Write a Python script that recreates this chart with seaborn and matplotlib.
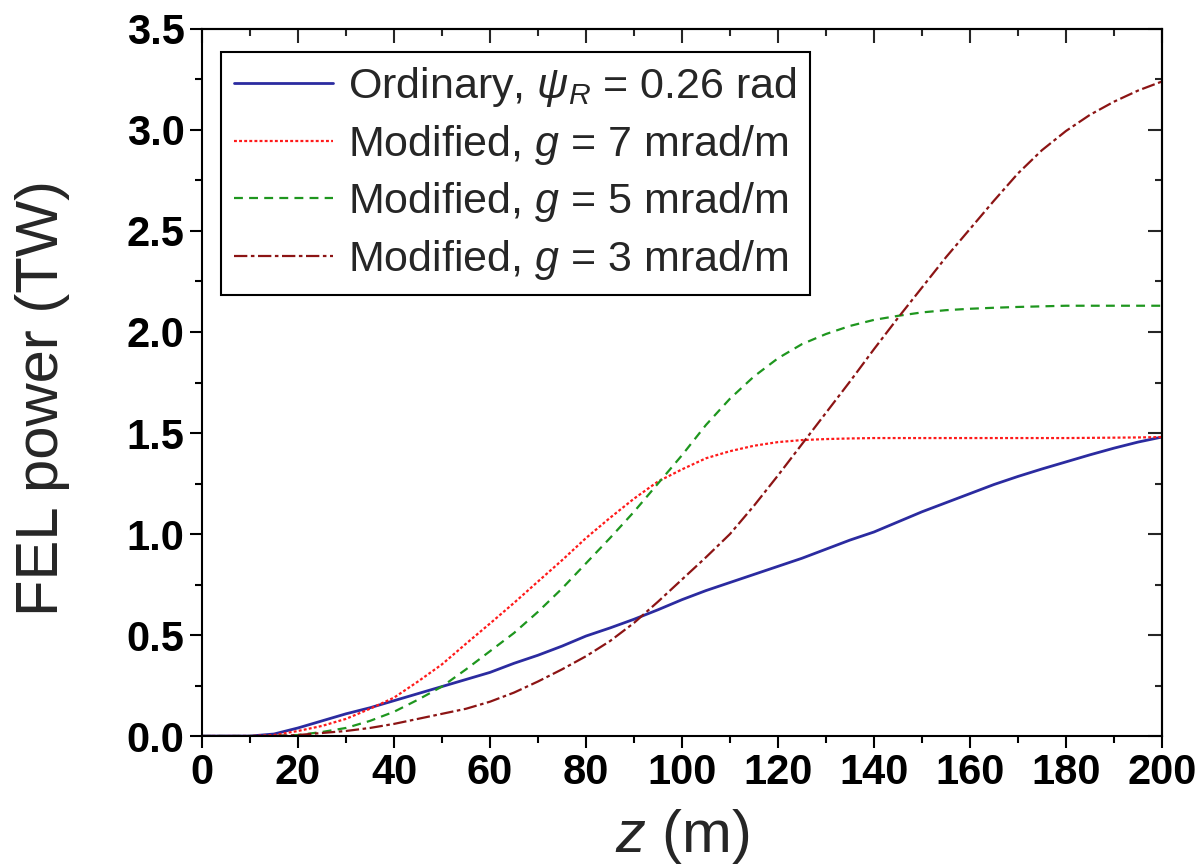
import matplotlib
matplotlib.use("Agg")
import matplotlib.pyplot as plt
from matplotlib.ticker import MultipleLocator, FormatStrFormatter
import pandas as pd
import seaborn as sns

# Undulator position (m)
z = [0, 5, 10, 15, 20, 25, 30, 35, 40, 45, 50, 55, 60, 65, 70, 75, 80, 85, 90, 95,
     100, 105, 110, 115, 120, 125, 130, 135, 140, 145, 150, 155, 160, 165, 170, 175,
     180, 185, 190, 195, 200]

# FEL power (TW) for each taper scheme
p_ordinary = [0, 0, 0, 0.01, 0.04, 0.075, 0.11, 0.14, 0.175, 0.21, 0.245, 0.28, 0.315,
              0.36, 0.40, 0.445, 0.495, 0.535, 0.578, 0.625, 0.675, 0.72, 0.76, 0.80, 0.84,
              0.88, 0.925, 0.97, 1.01, 1.06, 1.11, 1.155, 1.20, 1.245, 1.285, 1.322, 1.357,
              1.392, 1.425, 1.455, 1.48]
p_g7 = [0, 0, 0, 0.005, 0.025, 0.05, 0.085, 0.135, 0.19, 0.27, 0.355, 0.457, 0.557,
        0.659, 0.765, 0.87, 0.98, 1.08, 1.175, 1.26, 1.32, 1.375, 1.41, 1.437, 1.455,
        1.465, 1.47, 1.473, 1.475, 1.475, 1.475, 1.475, 1.475, 1.475, 1.475, 1.475,
        1.475, 1.476, 1.477, 1.478, 1.48]
p_g5 = [0, 0, 0, 0, 0.005, 0.02, 0.04, 0.075, 0.12, 0.18, 0.245, 0.33, 0.42, 0.51,
        0.615, 0.73, 0.855, 0.98, 1.11, 1.25, 1.39, 1.54, 1.67, 1.78, 1.87, 1.94,
        1.99, 2.03, 2.06, 2.08, 2.097, 2.108, 2.115, 2.12, 2.124, 2.127, 2.13, 2.13,
        2.13, 2.13, 2.13]
p_g3 = [0, 0, 0, 0, 0.005, 0.015, 0.025, 0.04, 0.06, 0.085, 0.11, 0.135, 0.17, 0.215,
        0.27, 0.33, 0.395, 0.47, 0.56, 0.665, 0.775, 0.885, 1.0, 1.14, 1.29, 1.445, 1.6,
        1.755, 1.915, 2.07, 2.22, 2.37, 2.51, 2.65, 2.785, 2.9, 2.995, 3.075, 3.14,
        3.195, 3.24]

labels = [r"Ordinary, $\psi_R$ = 0.26 rad",
          r"Modified, $g$ = 7 mrad/m",
          r"Modified, $g$ = 5 mrad/m",
          r"Modified, $g$ = 3 mrad/m"]
colors = ["#2b2ba0", "#ff1a1a", "#1e961e", "#8c1414"]
styles = ["-", (0, (1.3, 1.0)), (0, (4.0, 2.8)), (0, (6.0, 1.6, 1.6, 1.6))]
widths = [2.0, 1.6, 1.6, 1.6]

df = pd.DataFrame({"z": z, labels[0]: p_ordinary, labels[1]: p_g7,
                   labels[2]: p_g5, labels[3]: p_g3})
long = df.melt(id_vars="z", var_name="scheme", value_name="power")

sns.set_style("ticks")
plt.rcParams["font.family"] = ["Liberation Sans", "DejaVu Sans"]
plt.rcParams["mathtext.fontset"] = "custom"
plt.rcParams["mathtext.rm"] = "Liberation Sans"
plt.rcParams["mathtext.it"] = "Liberation Sans:italic"

fig = plt.figure(figsize=(11.99, 8.65), dpi=100)
ax = fig.add_axes([0.1685, 0.1491, 0.8006, 0.8174])

for lab, c, ls, lw in zip(labels, colors, styles, widths):
    sub = long[long["scheme"] == lab]
    sns.lineplot(data=sub, x="z", y="power", ax=ax, color=c, linestyle=ls,
                 linewidth=lw, label=lab)

ax.set_xlim(0, 200)
ax.set_ylim(0, 3.5)
ax.xaxis.set_major_locator(MultipleLocator(20))
ax.xaxis.set_minor_locator(MultipleLocator(10))
ax.yaxis.set_major_locator(MultipleLocator(0.5))
ax.yaxis.set_minor_locator(MultipleLocator(0.25))
ax.yaxis.set_major_formatter(FormatStrFormatter("%.1f"))

for sp in ax.spines.values():
    sp.set_visible(True)
    sp.set_linewidth(1.5)
    sp.set_color("black")

ax.tick_params(which="major", direction="out", length=8.5, width=1.5,
               labelsize=30, pad=4, colors="black")
ax.tick_params(which="minor", direction="out", length=5, width=1.5, colors="black")
for t in ax.get_xticklabels() + ax.get_yticklabels():
    t.set_fontweight("bold")

# Mirrored inward ticks on the top and right edges
top = ax.secondary_xaxis("top")
top.xaxis.set_major_locator(MultipleLocator(20))
top.xaxis.set_minor_locator(MultipleLocator(10))
top.tick_params(which="major", direction="in", length=10, width=1.5, labeltop=False)
top.tick_params(which="minor", direction="in", length=5, width=1.5)
top.spines["top"].set_linewidth(1.5)
right = ax.secondary_yaxis("right")
right.yaxis.set_major_locator(MultipleLocator(0.5))
right.yaxis.set_minor_locator(MultipleLocator(0.25))
right.tick_params(which="major", direction="in", length=10, width=1.5, labelright=False)
right.tick_params(which="minor", direction="in", length=5, width=1.5)
right.spines["right"].set_linewidth(1.5)

ax.set_xlabel(r"$z$ (m)", fontsize=43)
ax.set_ylabel("FEL power (TW)", fontsize=43, va="center")
ax.xaxis.set_label_coords(0.5, -0.1)
ax.yaxis.set_label_coords(-0.166, 0.478)

handles, labs = ax.get_legend_handles_labels()
leg = ax.legend(handles, labs, loc="upper left", bbox_to_anchor=(0.0198, 0.9675),
                borderaxespad=0, fontsize=31, frameon=True, fancybox=False,
                edgecolor="black", handlelength=2.3, handletextpad=0.35,
                labelspacing=0.32, borderpad=0.3)
leg.get_frame().set_linewidth(1.5)
leg.get_frame().set_alpha(1)

fig.savefig("out.png", dpi=100, facecolor="white")
